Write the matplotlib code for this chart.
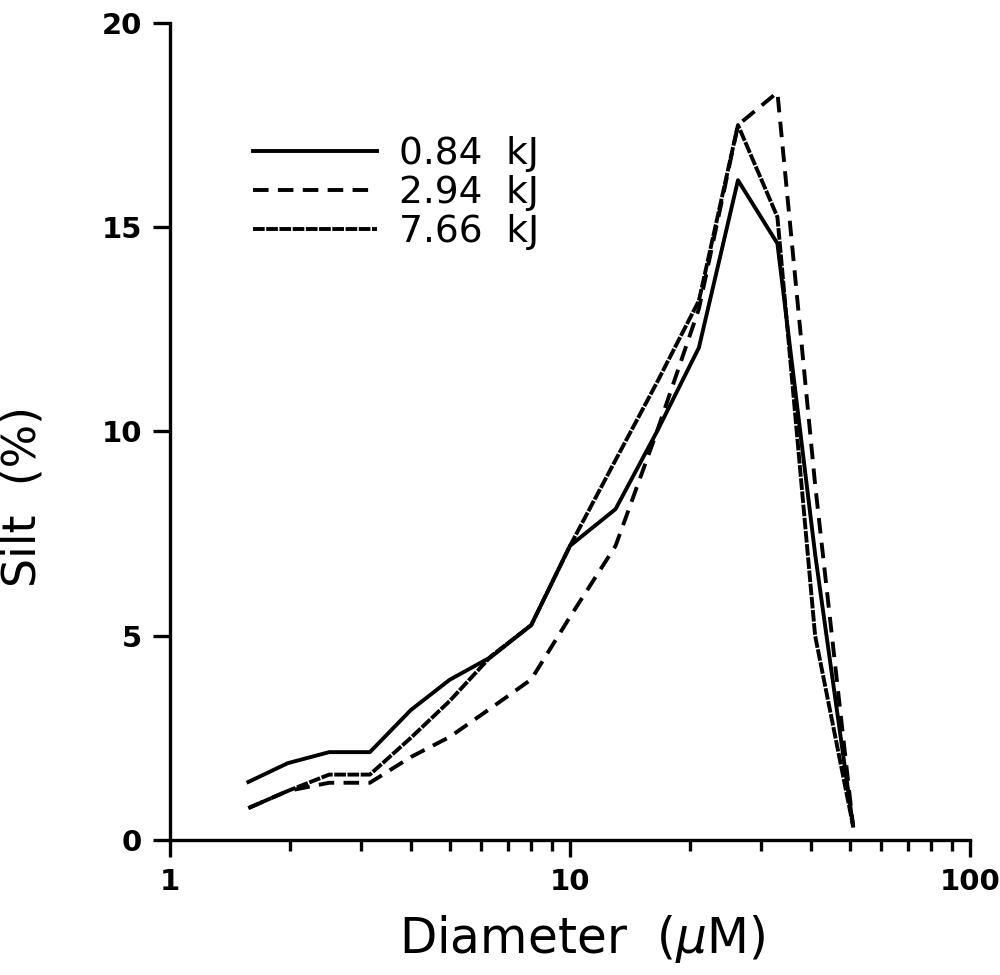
import matplotlib
matplotlib.use("Agg")
import matplotlib.pyplot as plt
from matplotlib.ticker import FixedLocator, LogLocator, NullFormatter

# diameter classes (uM)
diameter = [1.57, 1.97, 2.5, 3.16, 4.0, 5.0, 6.35, 8.0, 10.0, 13.0, 16.5, 21.0, 26.3, 33.0, 41.0, 51.0]

# silt fraction (%) for each energy level
silt_084 = [1.42, 1.88, 2.15, 2.15, 3.18, 3.92, 4.48, 5.26, 7.2, 8.1, 10.0, 12.05, 16.15, 14.6, 7.0, 0.35]
silt_294 = [0.78, 1.2, 1.4, 1.4, 2.03, 2.52, 3.23, 3.93, 5.46, 7.2, 10.0, 13.0, 17.5, 18.3, 8.7, 0.35]
silt_766 = [0.78, 1.2, 1.6, 1.6, 2.5, 3.4, 4.5, 5.26, 7.2, 9.3, 11.2, 13.2, 17.5, 15.25, 5.0, 0.35]

labels = ["0.84  kJ", "2.94  kJ", "7.66  kJ"]

fig = plt.figure(figsize=(10, 9.75), dpi=100)
ax = fig.add_axes([0.17, 0.1385, 0.80, 0.838])

lw = 2.8
ax.plot(diameter, silt_084, color="black", lw=lw, ls="-", label=labels[0])
ax.plot(diameter, silt_294, color="black", lw=lw, ls=(0, (4.0, 2.4)), label=labels[1])
ax.plot(diameter, silt_766, color="black", lw=lw, ls=(0, (3.0, 0.4)), label=labels[2])

ax.set_xscale("log")
ax.set_xlim(1, 100)
ax.set_ylim(0, 20)

ax.spines["top"].set_visible(False)
ax.spines["right"].set_visible(False)
ax.spines["left"].set_linewidth(2.4)
ax.spines["bottom"].set_linewidth(2.4)

ax.xaxis.set_major_locator(FixedLocator([1, 10, 100]))
ax.set_xticklabels(["1", "10", "100"])
ax.xaxis.set_minor_locator(LogLocator(base=10, subs=range(2, 10)))
ax.xaxis.set_minor_formatter(NullFormatter())
ax.set_yticks([0, 5, 10, 15, 20])

ax.tick_params(axis="both", which="major", direction="out", length=12, width=2.4,
               labelsize=21, pad=8)
ax.tick_params(axis="x", which="minor", direction="out", length=8, width=2.4)
for t in ax.get_xticklabels() + ax.get_yticklabels():
    t.set_fontweight("bold")

ax.set_xlabel("Diameter  ($\\mu$M)", fontsize=35)
ax.xaxis.set_label_coords(0.515, -0.09)
ax.set_ylabel("Silt  (%)", fontsize=33)
ax.yaxis.set_label_coords(-0.156, 0.42)

ax.legend(loc="upper left", bbox_to_anchor=(0.085, 0.88), frameon=False,
          fontsize=27, handlelength=3.3, handletextpad=0.6, labelspacing=0.08,
          borderaxespad=0)

fig.savefig("out.png", dpi=100)
